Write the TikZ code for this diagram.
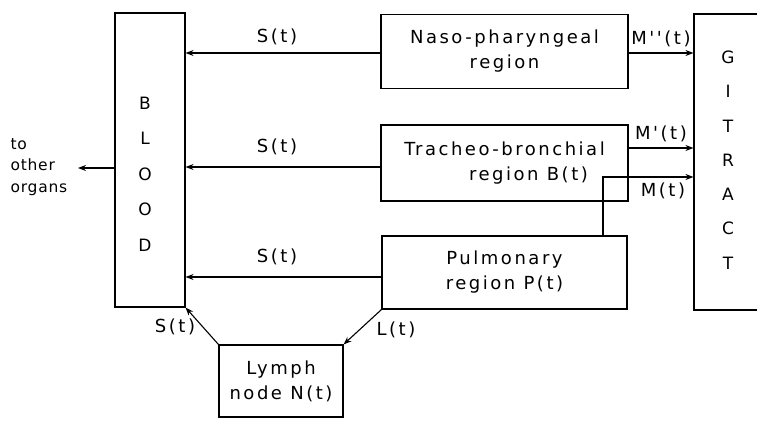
\documentclass[tikz,border=0pt]{standalone}
\usepackage{fontspec}
\newfontfamily\df[LetterSpace=14]{DejaVu Sans}
\newfontfamily\dfs[LetterSpace=5]{DejaVu Sans}
\newfontfamily\dfn{DejaVu Sans}
\usetikzlibrary{arrows.meta}
\begin{document}
\begin{tikzpicture}[x=1pt,y=-1pt, line width=1.1pt,
  box/.style={draw, rectangle, inner sep=0pt, align=center, font=\df\fontsize{18}{25}\selectfont},
  lbl/.style={font=\df\fontsize{18}{25}\selectfont, inner sep=0pt},
  arr/.style={-{Stealth[length=8pt,width=6pt]}}]
\useasboundingbox (0,0) rectangle (757,420);

\node[box, minimum width=247pt, minimum height=74pt] (naso) at (504.5,51.5) {Naso-pharyngeal\\region};
\node[box, minimum width=247pt, minimum height=76pt] (trach) at (504.5,163) {Tracheo-bronchial\\\hspace*{48pt}region B(t)};
\node[box, minimum width=245pt, minimum height=73pt] (pulm) at (504.5,272.5) {Pulmonary\\region P(t)};
\node[box, minimum width=70pt, minimum height=294pt] (blood) at (150,160) {};
\node[box, minimum width=76pt, minimum height=296pt] (gi) at (732,162) {};
\node[box, minimum width=124pt, minimum height=72pt] (lymph) at (281,381) {Lymph\\node N(t)};

\node[align=center, inner sep=0pt, font=\dfn\fontsize{17}{35.5}\selectfont] (bloodtxt) at (145,174) {B\\L\\O\\O\\D};
\node[align=center, inner sep=0pt, font=\dfn\fontsize{17}{34.3}\selectfont] (gitxt) at (728,160) {G\\I\\T\\R\\A\\C\\T};

\node[align=left, anchor=west, inner sep=0pt, font=\dfs\fontsize{15.5}{21.5}\selectfont] (other) at (10,167) {to\\other\\organs};
\coordinate (othend) at (78,168);

% S(t) flows to blood
\draw[arr] ([yshift=-1.5pt]naso.west) -- ([yshift=-1.5pt]naso.west -| blood.east);
\draw[arr] ([yshift=-4pt]trach.west) -- ([yshift=-4pt]trach.west -| blood.east);
\draw[arr] ([yshift=-4.5pt]pulm.west) -- ([yshift=-4.5pt]pulm.west -| blood.east);
\node[lbl] (s1) at (277,37) {S(t)};
\node[lbl] (s2) at (277,147) {S(t)};
\node[lbl] (s3) at (277,257) {S(t)};

% to other organs
\draw[arr] (blood.west |- othend) -- (othend);

% lymph
\draw[arr] (lymph.north west) -- (blood.south east);
\draw[arr] (pulm.south west) -- (lymph.north east);
\node[lbl] (s4) at (175,327) {S(t)};
\node[lbl] (lt) at (396,330) {L(t)};

% GI tract flows
\draw[arr] ([yshift=-1.5pt]naso.east) -- ([yshift=-1.5pt]naso.east -| gi.west);
\draw[arr] ([yshift=15pt]trach.east) -- ([yshift=15pt]trach.east -| gi.west);
\coordinate (mc) at (603,177);
\draw[arr] (pulm.north -| mc) -- (mc) -- (mc -| gi.west);
\node[lbl] (m2) at (661,39) {M''(t)};
\node[lbl] (m1) at (661,134) {M'(t)};
\node[lbl] (m0) at (663,191) {M(t)};
\end{tikzpicture}
\end{document}
